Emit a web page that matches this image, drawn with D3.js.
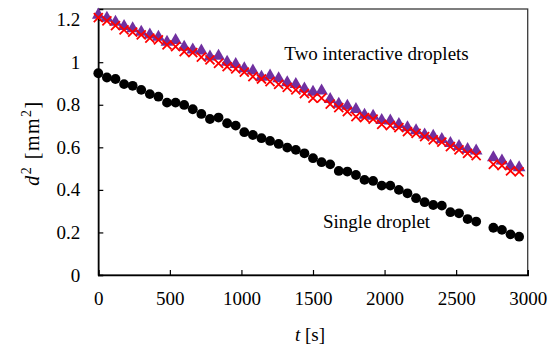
<!DOCTYPE html>
<html>
<head>
<meta charset="utf-8">
<script src="https://cdn.jsdelivr.net/npm/d3@7"></script>
<style>
  html, body { margin: 0; padding: 0; background: #fff; }
  svg text { font-family: "Times New Roman", "Liberation Serif", "DejaVu Serif", serif; fill: #000; }
</style>
</head>
<body>
<svg id="chart" width="555" height="347"></svg>
<script>
// ---- data ----
const times = [0,60,120,180,240,300,360,420,480,540,600,660,720,780,840,900,960,1020,1080,1140,1200,1260,1320,1380,1440,1500,1560,1620,1680,1740,1800,1860,1920,1980,2040,2100,2160,2220,2280,2340,2400,2460,2520,2580,2640,2760,2820,2880,2940];
const singleDroplet = [0.948,0.928,0.921,0.897,0.889,0.870,0.850,0.838,0.810,0.810,0.799,0.779,0.757,0.733,0.740,0.713,0.702,0.671,0.658,0.643,0.630,0.616,0.599,0.588,0.572,0.549,0.530,0.520,0.489,0.486,0.470,0.447,0.442,0.420,0.420,0.400,0.384,0.361,0.342,0.329,0.326,0.295,0.290,0.263,0.251,0.222,0.212,0.191,0.180];
const twoDropletsA = [1.222,1.207,1.188,1.168,1.158,1.141,1.129,1.118,1.095,1.103,1.071,1.058,1.053,1.025,1.029,1.001,0.990,0.970,0.959,0.930,0.936,0.923,0.904,0.896,0.875,0.859,0.865,0.826,0.803,0.794,0.779,0.751,0.747,0.727,0.724,0.708,0.693,0.679,0.659,0.653,0.638,0.619,0.605,0.591,0.583,0.552,0.536,0.512,0.505];
const twoDropletsB = [1.210,1.194,1.172,1.152,1.141,1.128,1.113,1.105,1.081,1.073,1.050,1.045,1.024,1.011,0.995,0.979,0.969,0.953,0.932,0.921,0.909,0.896,0.882,0.870,0.852,0.831,0.831,0.803,0.787,0.768,0.744,0.740,0.733,0.708,0.702,0.693,0.674,0.666,0.650,0.635,0.624,0.603,0.588,0.572,0.561,0.520,0.514,0.489,0.485];
const xTicks = [0,500,1000,1500,2000,2500,3000];
const yTicks = [0,0.2,0.4,0.6,0.8,1.0,1.2];
const yTickLabels = ["0","0.2","0.4","0.6","0.8","1","1.2"];
const annotations = [
  {text: "Two interactive droplets", t: 1300, v: 1.01},
  {text: "Single droplet", t: 1570, v: 0.22}
];

// ---- layout ----
const svg = d3.select("#chart");
const L = 98.3, R = 527.7, T = 9, B = 275;
const x = d3.scaleLinear().domain([0, 3000]).range([L, R]);
const y = d3.scaleLinear().domain([0, 1.25]).range([B, T]);
const FS = 19;
const FF = '"Times New Roman", "Liberation Serif", "DejaVu Serif", serif';

// frame
svg.append("rect").attr("x", L).attr("y", T).attr("width", R - L).attr("height", B - T)
  .attr("fill", "none").attr("stroke", "#3a3a3a").attr("stroke-width", 1.3);

// axes
const xAxis = d3.axisBottom(x).tickValues(xTicks).tickSize(-5).tickPadding(12).tickFormat(d3.format("d"));
const gx = svg.append("g").attr("transform", `translate(0,${B})`).call(xAxis);
gx.attr("font-family", FF).attr("font-size", FS);
gx.select(".domain").attr("stroke", "#000").attr("stroke-width", 1.5);
gx.selectAll(".tick line").attr("stroke", "#000").attr("stroke-width", 1.2);
gx.selectAll(".tick text").attr("dy", null).attr("y", 30);

const yAxis = d3.axisLeft(y).tickValues(yTicks).tickSize(-5).tickPadding(18)
  .tickFormat((d, i) => yTickLabels[i]);
const gy = svg.append("g").attr("transform", `translate(${L},0)`).call(yAxis);
gy.attr("font-family", FF).attr("font-size", FS);
gy.select(".domain").attr("stroke", "#000").attr("stroke-width", 1.5);
gy.selectAll(".tick line").attr("stroke", "#000").attr("stroke-width", 1.2);

// axis titles
const xt = svg.append("text").attr("x", 310).attr("y", 341)
  .attr("text-anchor", "middle").attr("font-size", FS);
xt.append("tspan").attr("font-style", "italic").text("t");
xt.append("tspan").text(" [s]");

const yt = svg.append("text").attr("transform", `translate(39,143) rotate(-90)`)
  .attr("text-anchor", "middle").attr("font-size", 20).attr("letter-spacing", 1.5);
yt.append("tspan").attr("font-style", "italic").text("d");
yt.append("tspan").attr("font-size", 14).attr("dy", -8).text("2");
yt.append("tspan").attr("dy", 8).text(" [mm");
yt.append("tspan").attr("font-size", 14).attr("dy", -8).text("2");
yt.append("tspan").attr("dy", 8).text("]");

// series
const single = times.map((t, i) => ({t, v: singleDroplet[i]}));
const triA = times.map((t, i) => ({t, v: twoDropletsA[i]}));
const crossB = times.map((t, i) => ({t, v: twoDropletsB[i]}));

svg.append("g").selectAll("circle").data(single).join("circle")
  .attr("cx", d => x(d.t)).attr("cy", d => y(d.v)).attr("r", 4.9).attr("fill", "#000");

const tri = d3.symbol().type(d3.symbolTriangle).size(70);
svg.append("g").selectAll("path").data(triA).join("path")
  .attr("d", tri).attr("transform", d => `translate(${x(d.t)},${y(d.v)})`)
  .attr("fill", "#7030A0");

svg.append("g").selectAll("path").data(crossB).join("path")
  .attr("d", "M-4.5,-4.5L4.5,4.5M4.5,-4.5L-4.5,4.5")
  .attr("transform", d => `translate(${x(d.t)},${y(d.v)})`)
  .attr("fill", "none").attr("stroke", "#FF0000").attr("stroke-width", 1.8);

// annotations
svg.append("g").selectAll("text").data(annotations).join("text")
  .attr("x", d => x(d.t)).attr("y", d => y(d.v))
  .attr("font-size", FS).text(d => d.text);
</script>
</body>
</html>
